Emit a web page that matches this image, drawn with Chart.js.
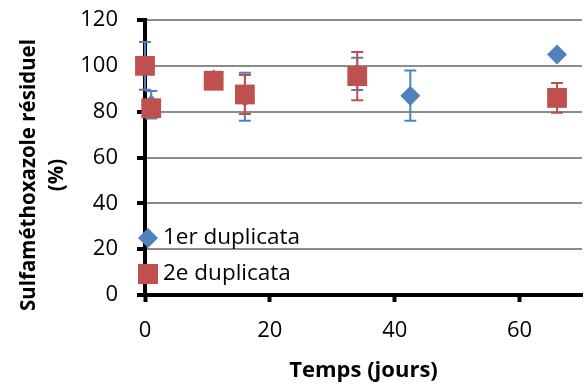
<!DOCTYPE html>
<html>
<head>
<meta charset="utf-8">
<script src="https://cdn.jsdelivr.net/npm/chart.js@4/dist/chart.umd.min.js"></script>
<style>
  html, body { margin: 0; padding: 0; background: #fff; }
  #wrap { width: 586px; height: 388px; }
</style>
</head>
<body>
<div id="wrap"><canvas id="chart" width="586" height="388"></canvas></div>
<script>
// 1er duplicata
const days1 = [0, 1, 11, 16, 34, 42.5, 66];
const resid1 = [100, 83, 94, 86.5, 96.5, 87, 105];
const err1 = [10.4, 6, 1, 10.5, 7, 11, 0.5];

// 2e duplicata
const days2 = [0, 1, 11, 16, 34, 66];
const resid2 = [100, 81.5, 93.5, 87.5, 95.5, 86];
const err2 = [1, 3.5, 1.5, 8.5, 10.5, 6.5];

const xTicks = [0, 20, 40, 60];
const yTicks = [0, 20, 40, 60, 80, 100, 120];

const seriesNames = ['1er duplicata', '2e duplicata'];
const blue = '#4F81BD';
const red = '#C0504D';
const fontFam = "'Open Sans', sans-serif";

const toPoints = (xs, ys) => xs.map((x, i) => ({ x: x, y: ys[i] }));

// on garde la zone de tracé fixe : pas de marge auto pour les libellés
const noPad = (scale) => {
    scale.paddingTop = 0;
    scale.paddingBottom = 0;
    scale.paddingLeft = 0;
    scale.paddingRight = 0;
};

// barres d'erreur verticales, dessinées sous les marqueurs de chaque série
const errorBars = {
    id: 'errorBars',
    beforeDatasetDraw(chart, args) {
        const ds = chart.data.datasets[args.index];
        if (!ds.errors) return;
        const ctx = chart.ctx;
        const xs = chart.scales.x, ys = chart.scales.y;
        ctx.save();
        ctx.strokeStyle = ds.borderColor;
        ctx.lineWidth = 2;
        ds.data.forEach((p, i) => {
            const e = ds.errors[i];
            const px = xs.getPixelForValue(p.x);
            const top = ys.getPixelForValue(p.y + e);
            const bot = ys.getPixelForValue(p.y - e);
            ctx.beginPath();
            ctx.moveTo(px, top); ctx.lineTo(px, bot);
            ctx.moveTo(px - 6, top); ctx.lineTo(px + 6, top);
            ctx.moveTo(px - 6, bot); ctx.lineTo(px + 6, bot);
            ctx.stroke();
        });
        ctx.restore();
    }
};

// titre de l'axe Y et légende dans la zone de tracé
const extras = {
    id: 'extras',
    afterDraw(chart) {
        const ctx = chart.ctx;
        const area = chart.chartArea;
        ctx.save();
        ctx.fillStyle = '#000';
        ctx.font = 'bold 20.5px ' + fontFam;
        ctx.textAlign = 'center';
        ctx.textBaseline = 'middle';
        ctx.translate(29, 175);
        ctx.rotate(-Math.PI / 2);
        ctx.fillText('Sulfaméthoxazole résiduel', 0, 0);
        ctx.fillText('(%)', 0, 28);
        ctx.restore();

        const lx = area.left + 3;
        const rows = [area.bottom - 57, area.bottom - 21];
        ctx.save();
        ctx.fillStyle = blue;
        ctx.beginPath();
        ctx.moveTo(lx, rows[0] - 10);
        ctx.lineTo(lx + 10, rows[0]);
        ctx.lineTo(lx, rows[0] + 10);
        ctx.lineTo(lx - 10, rows[0]);
        ctx.closePath();
        ctx.fill();
        ctx.fillStyle = red;
        ctx.fillRect(lx - 10, rows[1] - 10, 20, 20);
        ctx.fillStyle = '#000';
        ctx.font = '22.5px ' + fontFam;
        ctx.textAlign = 'left';
        ctx.textBaseline = 'middle';
        ctx.fillText(seriesNames[0], lx + 15, rows[0]);
        ctx.fillText(seriesNames[1], lx + 15, rows[1]);
        ctx.restore();
    }
};

const ctx = document.getElementById('chart').getContext('2d');
const chart = new Chart(ctx, {
    type: 'scatter',
    data: {
        datasets: [{
            label: seriesNames[0],
            data: toPoints(days1, resid1),
            errors: err1,
            pointStyle: 'rectRot',
            pointRadius: 10,
            backgroundColor: blue,
            borderColor: blue,
            borderWidth: 0,
            clip: false,
            order: 2
        }, {
            label: seriesNames[1],
            data: toPoints(days2, resid2),
            errors: err2,
            pointStyle: 'rect',
            pointRadius: 14,
            backgroundColor: red,
            borderColor: red,
            borderWidth: 0,
            clip: false,
            order: 1
        }]
    },
    options: {
        responsive: false,
        animation: false,
        layout: { autoPadding: false, padding: { left: 0, right: 4, top: 20, bottom: 0 } },
        plugins: {
            legend: { display: false },
            tooltip: { enabled: false }
        },
        scales: {
            x: {
                type: 'linear',
                min: 0,
                max: 70,
                afterBuildTicks: (scale) => { scale.ticks = xTicks.map(v => ({ value: v })); },
                afterFit: (scale) => { scale.height = 93; noPad(scale); },
                grid: {
                    drawOnChartArea: false,
                    drawTicks: true,
                    tickLength: 7,
                    tickColor: '#000',
                    tickWidth: 4
                },
                border: { color: '#000', width: 4 },
                ticks: {
                    color: '#000',
                    padding: 16,
                    font: { family: fontFam, size: 22 }
                },
                title: {
                    display: true,
                    text: 'Temps (jours)',
                    color: '#000',
                    padding: { top: 0, bottom: 4 },
                    font: { family: fontFam, size: 22, weight: 'bold' }
                }
            },
            y: {
                min: 0,
                max: 120,
                afterBuildTicks: (scale) => { scale.ticks = yTicks.map(v => ({ value: v })); },
                afterFit: (scale) => { scale.width = 145; noPad(scale); },
                grid: {
                    color: (c) => c.tick && c.tick.value === 0 ? 'rgba(0,0,0,0)' : '#8C8C8C',
                    lineWidth: 2,
                    drawTicks: true,
                    tickLength: 8,
                    tickColor: '#000',
                    tickWidth: 4
                },
                border: { color: '#000', width: 4 },
                ticks: {
                    color: '#000',
                    padding: 19,
                    font: { family: fontFam, size: 22 }
                }
            }
        }
    },
    plugins: [errorBars, extras]
});
</script>
</body>
</html>
